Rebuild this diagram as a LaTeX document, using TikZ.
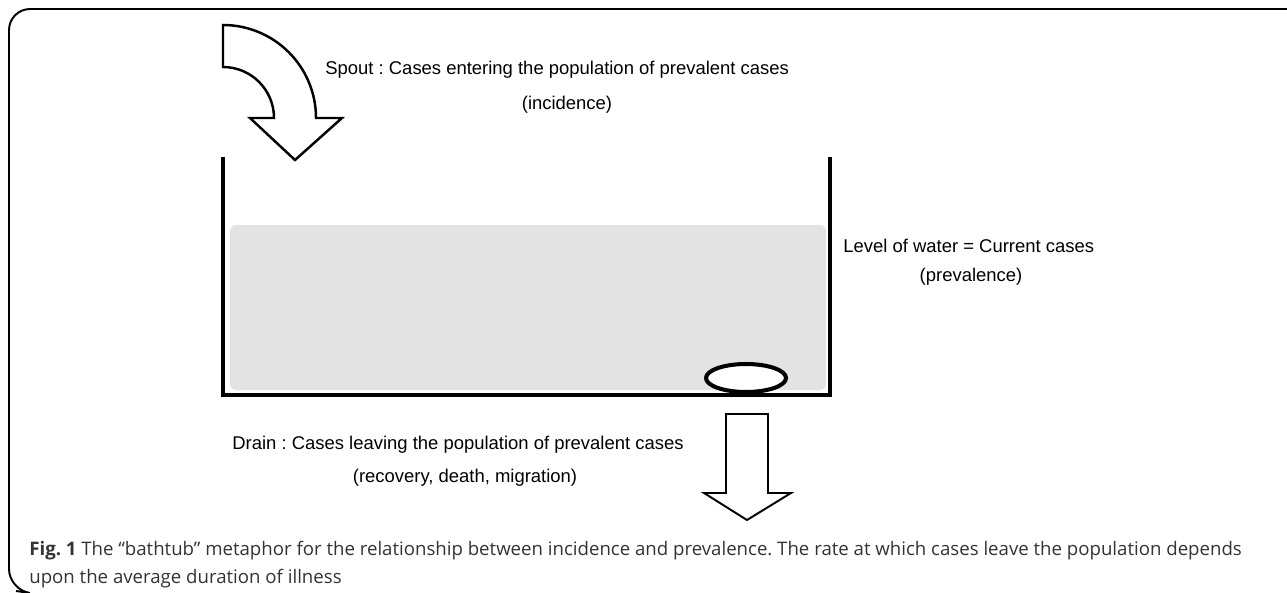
\documentclass[tikz,border=0pt]{standalone}
\usepackage{fontspec}
\setmainfont{Liberation Sans}
\newfontfamily\capfont{Open Sans}
\definecolor{water}{HTML}{E3E3E3}
\definecolor{captext}{HTML}{333333}
\frenchspacing
\begin{document}
\begin{tikzpicture}[x = 0.02cm, y = -0.02cm,
	lbl/.style = {inner sep = 0pt, font = \fontsize{10.5pt}{12pt}\selectfont},
	captxt/.style = {inner sep = 0pt, anchor = base west, text = captext, font = \capfont\fontsize{10.6pt}{12pt}\selectfont}]
	\useasboundingbox (0,0) rectangle (1287,592);
	
	% frame
	\draw[line width = 1.1pt, rounded corners = 12] (1287,9) -- (9,9) -- (9,590) -- (16,591);
	
	% water
	\fill[water, rounded corners = 3] (230,225) rectangle (826,390);
	
	% tub
	\draw[line width = 2.8pt] (223,157) -- (223,395) -- (830,395) -- (830,157);
	
	% drain hole
	\draw[line width = 2.3pt, fill = white] (746,378) ellipse [x radius = 40, y radius = 14];
	
	% spout
	\draw[line width = 1.4pt, line join = miter, fill = white]
		(223,25) arc [start angle = -90, end angle = 0, radius = 93]
		-- (342,118) -- (295,160) -- (250,118) -- (274,118)
		arc [start angle = 0, end angle = -90, radius = 51] -- cycle;
	
	% drain arrow
	\draw[line width = 1.1pt, line join = miter, fill = white]
		(726,414) -- (768,414) -- (768,493) -- (791,493) -- (747,520) -- (704,493) -- (726,493) -- cycle;
	
	% labels
	\node[lbl, anchor = west] (spout) at (325,70) {Spout : Cases entering the population of prevalent cases};
	\node[lbl] (incid) at (567,105) {(incidence)};
	\node[lbl, anchor = west] (level) at (843,246) {Level of water = Current cases};
	\node[lbl] (preval) at (971,277) {(prevalence)};
	\node[lbl, anchor = west] (drain) at (232,445) {Drain : Cases leaving the population of prevalent cases};
	\node[lbl] (recov) at (465,478) {(recovery, death, migration)};
	
	% caption
	\node[captxt] (cap1) at (29,555) {\textbf{Fig. 1} The “bathtub” metaphor for the relationship between incidence and prevalence. The rate at which cases leave the population depends};
	\node[captxt] (cap2) at (29,583) {upon the average duration of illness};
	
\end{tikzpicture}
\end{document}
